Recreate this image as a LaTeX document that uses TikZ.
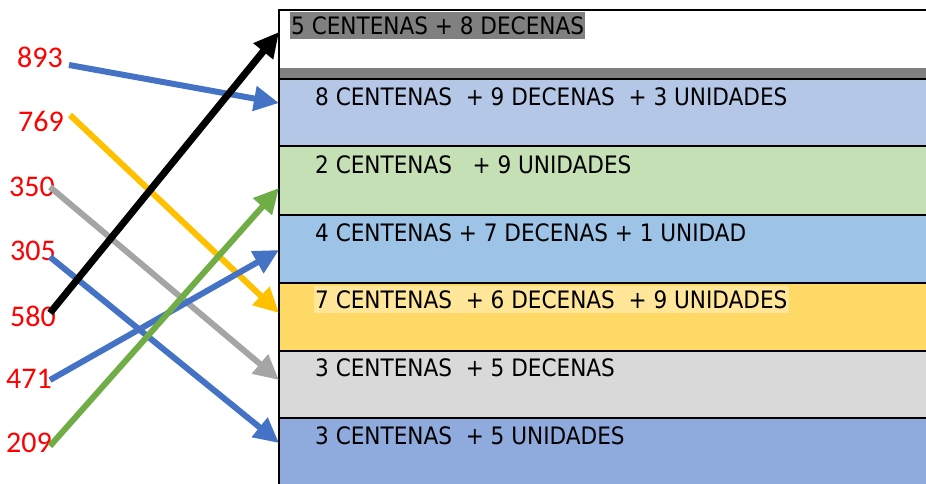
\documentclass[tikz,border=0pt]{standalone}
\usepackage{fontspec}
\setmainfont{DejaVu Sans Condensed}
\newfontfamily\numfont{Carlito}
\usetikzlibrary{arrows.meta}

\definecolor{rowblueA}{HTML}{B4C7E7}
\definecolor{rowgreen}{HTML}{C5E0B4}
\definecolor{rowblueB}{HTML}{9DC3E6}
\definecolor{rowyellow}{HTML}{FFD966}
\definecolor{rowgray}{HTML}{D9D9D9}
\definecolor{rowblueC}{HTML}{8FAADC}
\definecolor{markgray}{HTML}{808080}
\definecolor{markyellow}{HTML}{FFE699}
\definecolor{arrblue}{HTML}{4472C4}
\definecolor{arryellow}{HTML}{FFC000}
\definecolor{arrgray}{HTML}{A5A5A5}
\definecolor{arrgreen}{HTML}{70AD47}

\tikzset{
  num/.style={text=red, font=\numfont\fontsize{30}{30}\selectfont, inner sep=0pt},
  rowtext/.style={anchor=west, font=\fontsize{24}{28}\selectfont,
    inner xsep=1pt, inner ysep=5pt, text height=17.5pt, text depth=0pt},
  link/.style={line width=6pt, -{Triangle[length=25pt,width=24pt]}},
}

\begin{document}
\begin{tikzpicture}[x=1pt,y=-1pt]
\useasboundingbox (0,0) rectangle (926,484);

% table rows
\fill[white] (279,10) rectangle (926,68);
\fill[markgray] (279,68) rectangle (926,79);
\fill[rowblueA] (279,79) rectangle (926,146);
\fill[rowgreen] (279,146) rectangle (926,215);
\fill[rowblueB] (279,215) rectangle (926,283);
\fill[rowyellow] (279,283) rectangle (926,351);
\fill[rowgray] (279,351) rectangle (926,418);
\fill[rowblueC] (279,418) rectangle (926,484);

% table lines
\draw[line width=2.5pt] (279,484) -- (279,10) -- (926,10);
\draw[line width=2.5pt] (279,79) -- (926,79);
\draw[line width=2.5pt] (279,146) -- (926,146);
\draw[line width=2.5pt] (279,215) -- (926,215);
\draw[line width=2.5pt] (279,283) -- (926,283);
\draw[line width=2.5pt] (279,351) -- (926,351);
\draw[line width=2.5pt] (279,418) -- (926,418);

% row texts
\node[rowtext, fill=markgray] (c580) at (290,25.5) {5 CENTENAS + 8 DECENAS};
\node[rowtext] (c893) at (314,96.5) {8 CENTENAS\ \ + 9 DECENAS\ \ + 3 UNIDADES};
\node[rowtext] (c209) at (314,164.5) {2 CENTENAS\ \ \ + 9 UNIDADES};
\node[rowtext] (c471) at (314,232.5) {4 CENTENAS + 7 DECENAS + 1 UNIDAD};
\node[rowtext, fill=markyellow] (c769) at (314,299.5) {7 CENTENAS\ \ + 6 DECENAS\ \ + 9 UNIDADES};
\node[rowtext] (c350) at (314,368) {3 CENTENAS\ \ + 5 DECENAS};
\node[rowtext] (c305) at (314,436) {3 CENTENAS\ \ + 5 UNIDADES};

% numbers
\node[num] (n893) at (40,57) {893};
\node[num] (n769) at (41,121) {769};
\node[num] (n350) at (32,187) {350};
\node[num] (n305) at (33,251) {305};
\node[num] (n580) at (33,316) {580};
\node[num] (n471) at (29,379) {471};
\node[num] (n209) at (29,443) {209};

% arrow ends
\coordinate (s893) at (69,65);
\coordinate (s769) at (70,115);
\coordinate (s350) at (50,187);
\coordinate (s305) at (50,257);
\coordinate (s580) at (50,313);
\coordinate (s471) at (50,380);
\coordinate (s209) at (50,446);
\coordinate (t580) at (279,32);
\coordinate (t893) at (279,103);
\coordinate (t209) at (279,188);
\coordinate (t471) at (279,250);
\coordinate (t769) at (279,313);
\coordinate (t350) at (279,380);
\coordinate (t305) at (279,443);

% arrows
\draw[link, arryellow] (s769) -- (t769);
\draw[link, arrgray] (s350) -- (t350);
\draw[link, arrblue] (s893) -- (t893);
\draw[link, arrblue] (s305) -- (t305);
\draw[link, black, line width=7pt] (s580) -- (t580);
\draw[link, arrblue] (s471) -- (t471);
\draw[link, arrgreen] (s209) -- (t209);
\end{tikzpicture}
\end{document}
